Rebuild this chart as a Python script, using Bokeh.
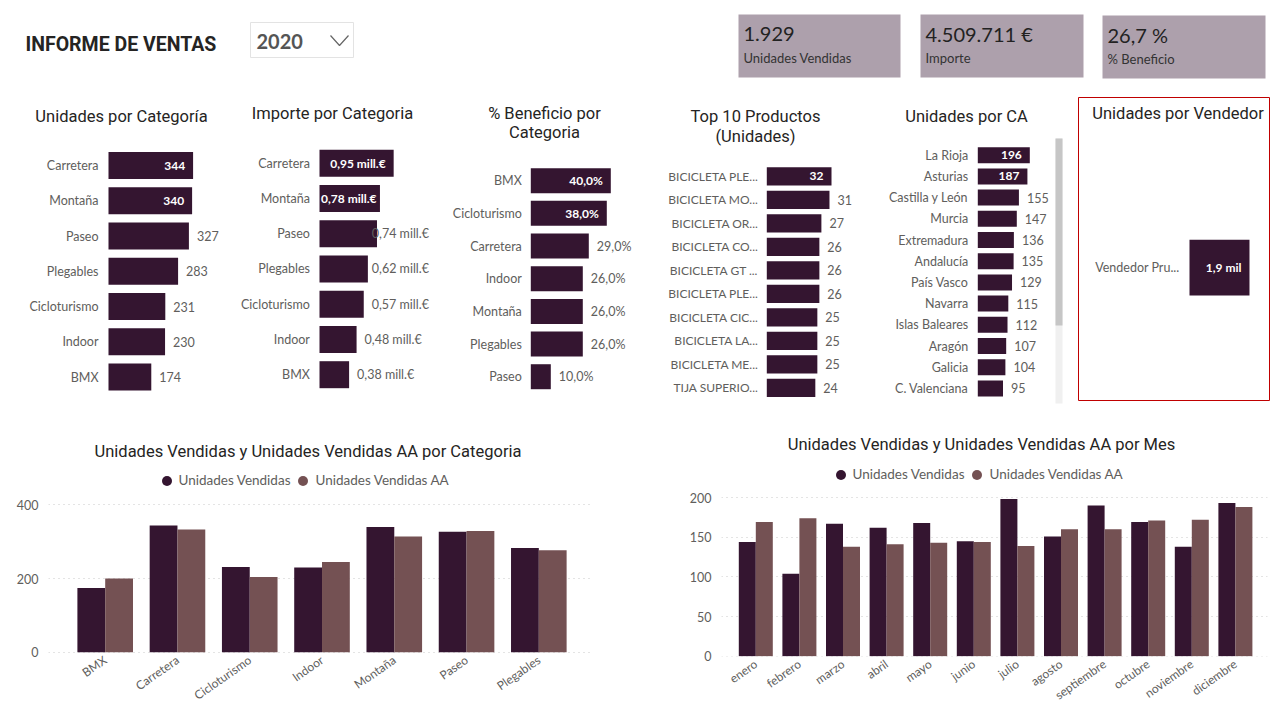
import math
from bokeh.plotting import figure
from bokeh.models import ColumnDataSource, Range1d, FixedTicker, Legend, LegendItem
from bokeh.layouts import column, row
from bokeh.transform import dodge
from bokeh.embed import file_html
from bokeh.resources import INLINE
from bokeh.core.properties import value

# ---------------- data ----------------
report_title = "INFORME DE VENTAS"
year_selected = "2020"
kpi_labels = ["Unidades Vendidas", "Importe", "% Beneficio"]
kpi_units = 1929
kpi_importe = 4509711
kpi_beneficio = 26.7

units_cat_names = ["Carretera", "Montaña", "Paseo", "Plegables", "Cicloturismo", "Indoor", "BMX"]
units_cat_values = [344, 340, 327, 283, 231, 230, 174]

importe_cat_names = ["Carretera", "Montaña", "Paseo", "Plegables", "Cicloturismo", "Indoor", "BMX"]
importe_cat_values = [0.952, 0.776, 0.738, 0.621, 0.568, 0.476, 0.380]  # millones de €

benef_cat_names = ["BMX", "Cicloturismo", "Carretera", "Indoor", "Montaña", "Plegables", "Paseo"]
benef_cat_values = [40.0, 38.0, 29.0, 26.0, 26.0, 26.0, 10.0]

top_prod_names = ["BICICLETA PLE...", "BICICLETA MO...", "BICICLETA OR...", "BICICLETA CO...",
                  "BICICLETA GT ...", "BICICLETA PLE...", "BICICLETA CIC...", "BICICLETA LA...",
                  "BICICLETA ME...", "TIJA SUPERIO..."]
top_prod_values = [32, 31, 27, 26, 26, 26, 25, 25, 25, 24]

ca_names = ["La Rioja", "Asturias", "Castilla y León", "Murcia", "Extremadura", "Andalucía",
            "País Vasco", "Navarra", "Islas Baleares", "Aragón", "Galicia", "C. Valenciana"]
ca_values = [196, 187, 155, 147, 136, 135, 129, 115, 112, 107, 104, 95]

vendedor_names = ["Vendedor Pru..."]
vendedor_values = [1929]

series_names = ["Unidades Vendidas", "Unidades Vendidas AA"]

cmp_categories = ["BMX", "Carretera", "Cicloturismo", "Indoor", "Montaña", "Paseo", "Plegables"]
cmp_units = [174, 344, 231, 230, 340, 327, 283]
cmp_units_aa = [200, 333, 204, 245, 314, 329, 277]
cmp_yticks = [0, 200, 400]

months = ["enero", "febrero", "marzo", "abril", "mayo", "junio", "julio", "agosto",
          "septiembre", "octubre", "noviembre", "diciembre"]
month_units = [144, 104, 167, 162, 168, 145, 198, 151, 190, 169, 138, 193]
month_units_aa = [169, 174, 138, 141, 143, 144, 139, 160, 160, 171, 172, 188]
month_yticks = [0, 50, 100, 150, 200]

# ---------------- style ----------------
DARK = "#341530"
AA_COL = "#745153"
GRAY = "#605E5C"
TITLE_COLOR = "#252423"
LAB_FONT = "Lato"
TITLE_FONT = "Roboto"
TITLE_SIZE = "16.5px"
CARD_FILL = "#ADA0AC"
PAGE_W = 1276


def es_int(v):
    return f"{v:,}".replace(",", ".")


def es_dec(v, d):
    return f"{v:.{d}f}".replace(".", ",")


def set_borders(p, left, right, top, bottom):
    p.min_border_left = int(round(left))
    p.min_border_right = int(round(right))
    p.min_border_top = int(round(top))
    p.min_border_bottom = int(round(bottom))


def add_px_ranges(p, left, right, top, bottom):
    # extra ranges expressed in page pixels of the plotting frame (for titles / decorations)
    p.extra_x_ranges = {"px": Range1d(left, right)}
    p.extra_y_ranges = {"px": Range1d(bottom, top)}


def px_text(p, xs, ys, texts, size=TITLE_SIZE, font=TITLE_FONT, color=TITLE_COLOR,
            align="center", style="normal"):
    p.text(x=xs, y=ys, text=texts, x_range_name="px", y_range_name="px",
           text_align=align, text_baseline="middle", text_font=value(font),
           text_font_size=size, text_color=color, text_font_style=style)


# ---------------- header ----------------
HDR_H = 95
hdr = figure(width=PAGE_W, height=HDR_H, x_range=Range1d(0, PAGE_W), y_range=Range1d(HDR_H, 0),
             x_axis_type=None, y_axis_type=None, toolbar_location=None, output_backend="svg")
set_borders(hdr, 0, 0, 0, 0)
hdr.outline_line_color = None
hdr.text(x=[25], y=[44], text=[report_title], text_font=value(TITLE_FONT), text_font_size="19.5px",
         text_font_style="bold", text_color=TITLE_COLOR, text_baseline="middle")
hdr.quad(left=250, right=353, top=22, bottom=57, fill_color="white", line_color="#E3E3E3")
hdr.text(x=[256], y=[41], text=[year_selected], text_font=value(LAB_FONT), text_font_size="20px",
         text_font_style="bold", text_color="#555555", text_baseline="middle")
hdr.line(x=[330, 339, 348], y=[35, 45, 35], line_color="#666666", line_width=1.2)

card_left = [738, 920, 1102]
card_right = [900, 1083, 1265]
card_top = [14, 14, 15]
card_bottom = [77, 77, 78]
hdr.quad(left=card_left, right=card_right, top=card_top, bottom=card_bottom,
         fill_color=CARD_FILL, line_color=None)
kpi_texts = [es_int(kpi_units), es_int(kpi_importe) + " €", es_dec(kpi_beneficio, 1) + " %"]
hdr.text(x=[l + 5 for l in card_left], y=[t + 19 for t in card_top], text=kpi_texts,
         text_font=value(LAB_FONT), text_font_size="20px", text_color="#222222",
         text_baseline="middle")
hdr.text(x=[l + 5 for l in card_left], y=[t + 43 for t in card_top], text=kpi_labels,
         text_font=value(LAB_FONT), text_font_size="13px", text_color="#333333",
         text_baseline="middle")

# ---------------- row 2: horizontal bar charts ----------------
ROW_Y, ROW_H = 95, 325
ROW_B = ROW_Y + ROW_H


def hchart(names, vals, texts, fig_x, fig_w, bar_l, c0, pitch, bar_px, ppu, n_inside,
           titles, lab_gap, edge=None, tick_size="12.5px"):
    n = len(vals)
    idx = list(range(n))
    fig_r = fig_x + fig_w
    p = figure(width=fig_w, height=ROW_H,
               x_range=Range1d(-(bar_l - fig_x) / ppu, (fig_r - bar_l) / ppu),
               y_range=Range1d((ROW_B - c0) / pitch, (ROW_Y - c0) / pitch),
               x_axis_type=None, y_axis_type=None, toolbar_location=None, output_backend="svg")
    set_borders(p, 0, 0, 0, 0)
    p.outline_line_color = None
    add_px_ranges(p, fig_x, fig_r, ROW_Y, ROW_B)

    src = ColumnDataSource(dict(y=idx, v=vals, z=[0] * n, name=names))
    p.hbar(y="y", left=0, right="v", height=bar_px / pitch, source=src,
           fill_color=DARK, line_color=None)
    # category labels next to the bar origin
    p.text(x="z", y="y", text="name", source=src, x_offset=-lab_gap, text_align="right",
           text_baseline="middle", text_color=GRAY, text_font=value(LAB_FONT),
           text_font_size=tick_size)

    ins = dict(x=[], y=[], t=[])
    outs = dict(x=[], y=[], t=[])
    clamp = dict(x=[], y=[], t=[])
    for i, (v, t) in enumerate(zip(vals, texts)):
        est_w = 5.0 * len(t)
        if i < n_inside:
            gap = max(2.0, min(8.0, v * ppu - est_w - 2))
            ins["x"].append(v - gap / ppu)
            tgt = ins
        elif edge is not None and bar_l + v * ppu + 8 + 4.9 * len(t) > edge:
            clamp["x"].append((edge - bar_l) / ppu)
            tgt = clamp
        else:
            outs["x"].append(v)
            tgt = outs
        tgt["y"].append(i)
        tgt["t"].append(t)
    p.text(x="x", y="y", text="t", source=ColumnDataSource(ins),
           text_align="right", text_baseline="middle", text_color="white",
           text_font=value(LAB_FONT), text_font_size="12px", text_font_style="bold")
    p.text(x="x", y="y", text="t", source=ColumnDataSource(outs), x_offset=8,
           text_align="left", text_baseline="middle", text_color=GRAY,
           text_font=value(LAB_FONT), text_font_size="12.5px")
    p.text(x="x", y="y", text="t", source=ColumnDataSource(clamp),
           text_align="right", text_baseline="middle", text_color=GRAY,
           text_font=value(LAB_FONT), text_font_size="12.5px")
    for (tt, px, py) in titles:
        px_text(p, [px], [py], [tt])
    return p


c1 = hchart(units_cat_names, units_cat_values, [str(v) for v in units_cat_values],
            0, 232, 108, 165.0, 35.25, 27, 0.2459, 2,
            [("Unidades por Categoría", 121, 115.5)], 10)
c2 = hchart(importe_cat_names, importe_cat_values,
            [es_dec(v, 2) + " mill.€" for v in importe_cat_values],
            232, 208, 319, 162.7, 35.25, 27, 77.9, 2,
            [("Importe por Categoria", 332, 113.3)], 9.6, edge=428.5)
c3 = hchart(benef_cat_names, benef_cat_values, [es_dec(v, 1) + "%" for v in benef_cat_values],
            440, 210, 530.3, 180.2, 32.67, 25, 2.0, 2,
            [("% Beneficio por", 544, 113.3), ("Categoria", 544, 132.3)], 9)
c4 = hchart(top_prod_names, top_prod_values, [str(v) for v in top_prod_values],
            650, 218, 766.3, 175.8, 23.5, 18.3, 2.022, 1,
            [("Top 10 Productos", 755, 116), ("(Unidades)", 755, 136)], 8.6, tick_size="12px")
c5 = hchart(ca_names, ca_values, [str(v) for v in ca_values],
            868, 206, 977.3, 154.7, 21.2, 16, 0.2653, 2,
            [("Unidades por CA", 966, 115.7)], 9.6)
# scrollbar of the CA list
c5.quad(left=1055, right=1062, top=138, bottom=403, x_range_name="px", y_range_name="px",
        fill_color="#F0F0F0", line_color=None)
c5.quad(left=1055, right=1062, top=138, bottom=325, x_range_name="px", y_range_name="px",
        fill_color="#C6C6C6", line_color=None)

c6 = hchart(vendedor_names, vendedor_values,
            [es_dec(v / 1000, 1) + " mil" for v in vendedor_values],
            1074, PAGE_W - 1074, 1189, 267.2, 69.6, 55.7, 0.0311, 1,
            [("Unidades por Vendedor", 1177.5, 113.3)], 10)
# red selection border of the visual
c6.quad(left=1078, right=1269, top=97, bottom=400, x_range_name="px", y_range_name="px",
        fill_color=None, line_color="#C00000", line_width=1)

# ---------------- row 3: grouped column charts ----------------
B_Y = ROW_B
B_H = 296
B_FRAME_B = 656


def vchart(cats, s1, s2, yticks, fig_x, fig_w, frame_l, frame_r, zero_px, c0, pitch,
           bar_px, ppu, title, title_xy, legend_circle_xy):
    n = len(cats)
    idx = list(range(n))
    frame_t, frame_b = B_Y, B_FRAME_B
    p = figure(width=fig_w, height=B_H,
               x_range=Range1d((frame_l - c0) / pitch, (frame_r - c0) / pitch),
               y_range=Range1d(-(frame_b - zero_px) / ppu, (zero_px - frame_t) / ppu),
               toolbar_location=None, output_backend="svg")
    set_borders(p, frame_l - fig_x, fig_x + fig_w - frame_r, 0, B_Y + B_H - frame_b)
    p.outline_line_color = None
    add_px_ranges(p, frame_l, frame_r, frame_t, frame_b)
    w = bar_px / pitch
    src = ColumnDataSource(dict(x=idx, a=s1, b=s2))
    p.vbar(x=dodge("x", -w / 2, range=p.x_range), top="a", bottom=0, width=w, source=src,
           fill_color=DARK, line_color=None)
    p.vbar(x=dodge("x", w / 2, range=p.x_range), top="b", bottom=0, width=w, source=src,
           fill_color=AA_COL, line_color=None)

    xa = p.xaxis[0]
    xa.ticker = FixedTicker(ticks=idx)
    xa.major_label_overrides = {i: c for i, c in enumerate(cats)}
    xa.major_label_orientation = math.radians(35)
    ya = p.yaxis[0]
    ya.ticker = FixedTicker(ticks=yticks)
    for a in (xa, ya):
        a.axis_line_color = None
        a.major_tick_line_color = None
        a.minor_tick_line_color = None
        a.major_tick_out = 0
        a.major_tick_in = 0
        a.major_label_text_font = LAB_FONT
        a.major_label_text_color = GRAY
    xa.major_label_text_font_size = "12px"
    ya.major_label_text_font_size = "12.5px"
    xa.major_label_standoff = max(0, int(round(6 - (frame_b - zero_px))))
    ya.major_label_standoff = 10
    p.xgrid.visible = False
    p.ygrid.ticker = FixedTicker(ticks=yticks)
    p.ygrid.grid_line_color = "#C8C8C8"
    p.ygrid.grid_line_dash = "1 4"
    p.ygrid.grid_line_width = 1

    nan = float("nan")
    d1 = p.scatter(x=[nan], y=[nan], marker="circle", size=10, fill_color=DARK, line_color=None)
    d2 = p.scatter(x=[nan], y=[nan], marker="circle", size=10, fill_color=AA_COL, line_color=None)
    gw = 25
    cx, cy = legend_circle_xy
    leg = Legend(items=[LegendItem(label=series_names[0], renderers=[d1]),
                        LegendItem(label=series_names[1], renderers=[d2])],
                 orientation="horizontal",
                 location=(cx - gw / 2 - frame_l, frame_b - (cy + gw / 2)),
                 glyph_width=gw, glyph_height=gw, label_standoff=0, spacing=0,
                 padding=0, margin=0, border_line_color=None, background_fill_alpha=0,
                 label_text_font=LAB_FONT, label_text_font_size="13.5px",
                 label_text_color=GRAY, label_height=14)
    p.add_layout(leg)
    px_text(p, [title_xy[0]], [title_xy[1]], [title])
    return p


b1 = vchart(cmp_categories, cmp_units, cmp_units_aa, cmp_yticks, 0, 640,
            48, 593, 651.7, 104.7, 72.27, 27.8, 0.3685,
            "Unidades Vendidas y Unidades Vendidas AA por Categoria", (307.5, 451), (166, 480))
b2 = vchart(months, month_units, month_units_aa, month_yticks, 640, PAGE_W - 640,
            721, 1267, 655.7, 755.3, 43.6, 17.0, 0.7935,
            "Unidades Vendidas y Unidades Vendidas AA por Mes", (981, 444), (840, 474))

layout = column(hdr, row(c1, c2, c3, c4, c5, c6), row(b1, b2))

open("out.html", "w").write(file_html(layout, INLINE))
